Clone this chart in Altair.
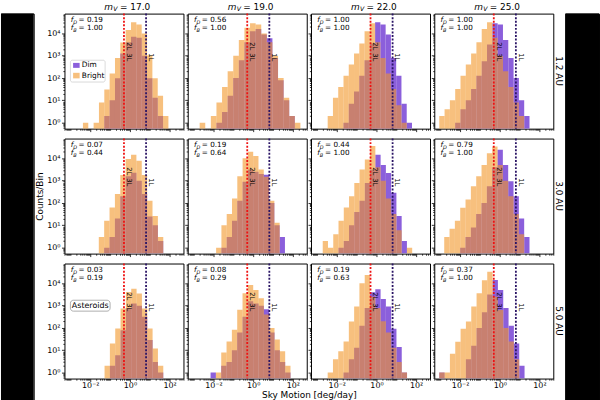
import numpy as np
import pandas as pd
import altair as alt

# ---------------------------------------------------------------- data
MAGNITUDES = ["17.0", "19.0", "22.0", "25.0"]
DISTANCES = ["1.2 AU", "3.0 AU", "5.0 AU"]
LEGEND_LABELS = ["Dim", "Bright"]

F_DIM = [[0.19, 0.56, 1.00, 1.00],
         [0.07, 0.19, 0.44, 0.79],
         [0.03, 0.08, 0.19, 0.37]]
F_BRIGHT = [[1.00, 1.00, 1.00, 1.00],
            [0.44, 0.64, 1.00, 1.00],
            [0.19, 0.29, 0.63, 1.00]]

# first / last histogram bin edge of every panel, log10(deg/day)
BIN_LO = [[-2.37, -2.70, -2.46, -3.05],
          [-1.57, -1.87, -2.71, -2.80],
          [-1.28, -2.15, -2.46, -3.05]]
BIN_HI = [[1.94, 2.38, 1.79, 1.50],
          [1.68, 1.60, 1.80, 1.50],
          [1.68, 1.88, 1.54, 1.25]]

# counts per bin, 1.2 AU
BRIGHT_12AU = [
    [1, 0, 1, 8, 31, 160, 790, 3950, 14100, 31500, 25200, 9900, 1010, 98, 16, 2],
    [1, 0, 2, 8, 40, 200, 1000, 5000, 17800, 28200, 25100, 10000, 3980, 1000, 100, 13, 2, 1],
    [2, 13, 40, 126, 400, 1260, 3550, 12600, 28200, 3980, 790, 158, 32, 6, 1, 0],
    [2, 4, 10, 32, 126, 400, 1260, 3980, 15800, 31600, 6300, 1000, 200, 40, 8, 2, 0],
]
DIM_12AU = [
    [0, 0, 0, 0, 2, 10, 98, 1260, 3990, 7050, 6300, 1000, 97, 13, 2, 0],
    [0, 0, 0, 1, 3, 16, 100, 630, 3980, 12600, 15800, 8900, 6000, 790, 79, 10, 2, 0],
    [0, 0, 0, 1, 7, 25, 126, 630, 3550, 31600, 25100, 8900, 790, 126, 7, 1],
    [0, 0, 0, 1, 4, 10, 32, 126, 560, 3160, 28200, 25100, 5000, 790, 100, 10, 2],
]
# counts per bin, 3.0 AU
BRIGHT_30AU = [
    [3, 16, 63, 250, 1780, 9300, 14500, 7900, 1780, 126, 26, 3],
    [1, 10, 32, 158, 1580, 10000, 20000, 12600, 3160, 1500, 126, 13, 0],
    [2, 1, 4, 16, 63, 200, 790, 3160, 8900, 35500, 3980, 1000, 158, 32, 6, 0, 1],
    [3, 7, 16, 62, 145, 560, 1580, 5100, 17000, 33900, 5000, 1000, 200, 32, 4, 0],
]
DIM_30AU = [
    [0, 1, 3, 20, 200, 1580, 2240, 1000, 250, 25, 10, 2],
    [0, 1, 3, 16, 126, 890, 3160, 2510, 2000, 1860, 100, 10, 3],
    [0, 0, 0, 1, 2, 10, 40, 126, 790, 3160, 14500, 5100, 2190, 290, 26, 2, 0],
    [0, 0, 0, 1, 3, 8, 32, 100, 560, 3980, 24000, 5100, 950, 200, 20, 3],
]
# counts per bin, 5.0 AU
BRIGHT_50AU = [
    [2, 20, 95, 740, 4070, 5750, 3470, 740, 95, 12, 2],
    [0, 1, 8, 25, 83, 650, 3550, 8300, 5000, 2140, 400, 100, 30, 9, 2],
    [1, 4, 9, 25, 195, 910, 10000, 23400, 2510, 790, 200, 63, 13, 3, 1],
    [1, 1, 7, 24, 93, 195, 910, 3550, 13800, 33100, 2510, 630, 100, 25, 4, 0],
]
DIM_50AU = [
    [0, 2, 6, 79, 790, 1260, 1000, 316, 29, 3, 1],
    [1, 0, 2, 3, 10, 63, 316, 1580, 1260, 1000, 690, 63, 10, 3, 1],
    [0, 0, 0, 1, 4, 13, 126, 790, 3980, 5400, 2000, 910, 93, 14, 1],
    [1, 0, 0, 0, 0, 4, 16, 100, 500, 3160, 14100, 5000, 790, 126, 20, 2],
]
BRIGHT = [BRIGHT_12AU, BRIGHT_30AU, BRIGHT_50AU]
DIM = [DIM_12AU, DIM_30AU, DIM_50AU]

RED_MOTION = 0.5     # deg/day
NAVY_MOTION = 6.5    # deg/day

# ---------------------------------------------------------------- style
W, H = 120, 116
GAP_X, GAP_Y = 4.3, 2
X_DOMAIN = [5e-4, 500]
Y_DOMAIN = [0.54, 7.7e4]
DIM_COLOR = "#8b5fdb"
BRIGHT_COLOR = "#f29628"
BRIGHT_OPACITY = 0.6
RED = "#ee1111"
NAVY = "#2a1465"
FONT = "DejaVu Sans"
TAG_SHIFT = 10 ** 0.24

XS = alt.Scale(type="log", domain=X_DOMAIN, nice=False)
YS = alt.Scale(type="log", domain=Y_DOMAIN, nice=False)


def log_ticks(lo, hi):
    vals = []
    for e in range(-5, 6):
        for m in range(1, 10):
            v = round(m * 10.0 ** e, 12)
            if lo <= v <= hi:
                vals.append(v)
    return vals


X_TICKS = log_ticks(*X_DOMAIN)
Y_TICKS = log_ticks(*Y_DOMAIN)
X_LABEL_EXPR = ("datum.value == 0.01 ? '10⁻²' : datum.value == 1 ? '10⁰' : "
                "datum.value == 100 ? '10²' : ''")
Y_LABEL_EXPR = ("datum.value == 1 ? '10⁰' : datum.value == 10 ? '10¹' : "
                "datum.value == 100 ? '10²' : datum.value == 1000 ? '10³' : "
                "datum.value == 10000 ? '10⁴' : ''")
X_TICK_SIZE = {"condition": {"test": "datum.value == 0.01 || datum.value == 1 || datum.value == 100",
                             "value": 3}, "value": 1.6}
Y_TICK_SIZE = {"condition": {"test": "indexof([1, 10, 100, 1000, 10000], datum.value) >= 0",
                             "value": 3}, "value": 1.6}


def one(tag):
    # one-row table so that every annotation mark has a source of its own
    return pd.DataFrame({"item": [tag]})


def hist_frame(counts, lo, hi):
    edges = np.logspace(lo, hi, len(counts) + 1)
    rows = [dict(x0=edges[i], x1=edges[i + 1], n=n) for i, n in enumerate(counts) if n > 0]
    return pd.DataFrame(rows)


def txt(s, px, py, size, italic=False, align="left", angle=0):
    kw = dict(text=s, font=FONT, fontSize=size, align=align, baseline="middle", color="black")
    if italic:
        kw["fontStyle"] = "italic"
    if angle:
        kw["angle"] = angle
    return alt.Chart(one(s)).mark_text(**kw).encode(x=alt.value(px), y=alt.value(py))


def box(tag, x0, x1, y0, y1, fill, stroke=None, opacity=1.0, radius=0):
    kw = dict(color=fill, opacity=opacity)
    if stroke:
        kw.update(stroke=stroke, strokeWidth=0.8)
    if radius:
        kw["cornerRadius"] = radius
    return alt.Chart(one(tag)).mark_rect(**kw).encode(
        x=alt.value(x0), x2=alt.value(x1), y=alt.value(y0), y2=alt.value(y1))


def frac_line(letter, value, py):
    return [txt("f", 6.3, py, 7.3, italic=True),
            txt(letter, 8.9, py + 1.7, 5.0, italic=True),
            txt(f"= {value:.2f}", 14.2, py, 7.3)]


def legend_layers():
    return [box("legend-frame", 6, 41, 47, 69, "white", stroke="#cccccc", opacity=0.9, radius=2),
            box("legend-dim", 8.7, 15.3, 49.7, 54.7, DIM_COLOR),
            box("legend-bright", 8.7, 15.3, 59.7, 65.3, BRIGHT_COLOR, opacity=BRIGHT_OPACITY),
            txt(LEGEND_LABELS[0], 17.5, 52.2, 7.5),
            txt(LEGEND_LABELS[1], 17.5, 62.5, 7.5)]


def make_panel(r, c):
    xkw = dict(values=X_TICKS, labelExpr=X_LABEL_EXPR, tickSize=X_TICK_SIZE,
               labels=(r == 2), labelOverlap=False, labelFlush=False, title=None,
               labelPadding=0.3, titlePadding=0.5)
    if r == 2 and c == 1:
        xkw.update(title="Sky Motion [deg/day]", titleX=W + GAP_X / 2)
    ykw = dict(values=Y_TICKS, labelExpr=Y_LABEL_EXPR, tickSize=Y_TICK_SIZE,
               labels=(c == 0), labelOverlap=False, labelFlush=False, title=None)
    if c == 0:
        # same title in every row keeps the rows aligned; only the middle one is shown
        ykw.update(title="Counts/Bin", titleOpacity=1 if r == 1 else 0)
    xa, ya = alt.Axis(**xkw), alt.Axis(**ykw)

    def X(f):
        return alt.X(f"{f}:Q", scale=XS, axis=xa)

    def Y(f):
        return alt.Y(f"{f}:Q", scale=YS, axis=ya)

    lo, hi = BIN_LO[r][c], BIN_HI[r][c]
    dim = hist_frame(DIM[r][c], lo, hi)
    bright = hist_frame(BRIGHT[r][c], lo, hi)

    layers = [
        alt.Chart(dim).mark_rect(color=DIM_COLOR, clip=True).encode(
            x=X("x0"), x2="x1", y=Y("n"), y2=alt.datum(Y_DOMAIN[0])),
        alt.Chart(bright).mark_rect(color=BRIGHT_COLOR, opacity=BRIGHT_OPACITY, clip=True).encode(
            x=X("x0"), x2="x1", y=Y("n"), y2=alt.datum(Y_DOMAIN[0])),
    ]
    if r == 0 and c == 0:
        layers += legend_layers()
    if r == 2 and c == 0:
        layers += [box("asteroid-frame", 6, 46, 37, 48, "white", stroke="#999999", radius=3),
                   txt("Asteroids", 26, 42.5, 8, align="center")]
    layers += [
        alt.Chart(pd.DataFrame({"v": [RED_MOTION]})).mark_rule(
            color=RED, strokeDash=[2, 1.6], strokeWidth=1.8).encode(x=X("v")),
        alt.Chart(pd.DataFrame({"v": [NAVY_MOTION]})).mark_rule(
            color=NAVY, strokeDash=[2, 1.6], strokeWidth=1.8).encode(x=X("v")),
    ]
    for tag, v, py in [("2L", RED_MOTION, 33), ("3L", RED_MOTION, 44), ("1L", NAVY_MOTION, 44)]:
        layers.append(
            alt.Chart(pd.DataFrame({"v": [v * TAG_SHIFT]})).mark_text(
                text=tag, angle=90, font=FONT, fontSize=6.8, align="center",
                baseline="middle", color="black").encode(x=X("v"), y=alt.value(py)))

    layers += frac_line("D", F_DIM[r][c], 6.8)
    layers += frac_line("B", F_BRIGHT[r][c], 15)

    if r == 0:
        layers += [txt("m", 49, -7, 9, italic=True, align="right"),
                   txt("V", 49.3, -4.5, 6.3, italic=True),
                   txt(f"= {MAGNITUDES[c]}", 56, -7, 9)]
    if c == 3:
        layers.append(txt(DISTANCES[r], W + 6, H / 2, 9, align="center", angle=90))

    return alt.layer(*layers).properties(width=W, height=H)


def band(width):
    return alt.Chart(one("band")).mark_rect(color="black").encode(
        x=alt.value(0), x2=alt.value(width), y=alt.value(0), y2=alt.value(400)
    ).properties(width=width, height=400)


rows = [alt.hconcat(*[make_panel(r, c) for c in range(4)], spacing=GAP_X, bounds="flush")
        for r in range(3)]
grid = alt.vconcat(*rows, spacing=GAP_Y)

chart = alt.hconcat(band(33), grid, band(34), spacing=0).properties(
    padding=0, background="white"
).configure_view(
    stroke="black", strokeWidth=1
).configure_axis(
    labelFont=FONT, titleFont=FONT, labelFontSize=8, titleFontSize=9,
    labelColor="black", titleColor="black", tickColor="black", tickWidth=0.8,
    titleFontWeight="normal", domain=False, grid=False, labelPadding=1.5, titlePadding=2
)

chart.save("out.html", embed_options={"renderer": "svg", "actions": False})
